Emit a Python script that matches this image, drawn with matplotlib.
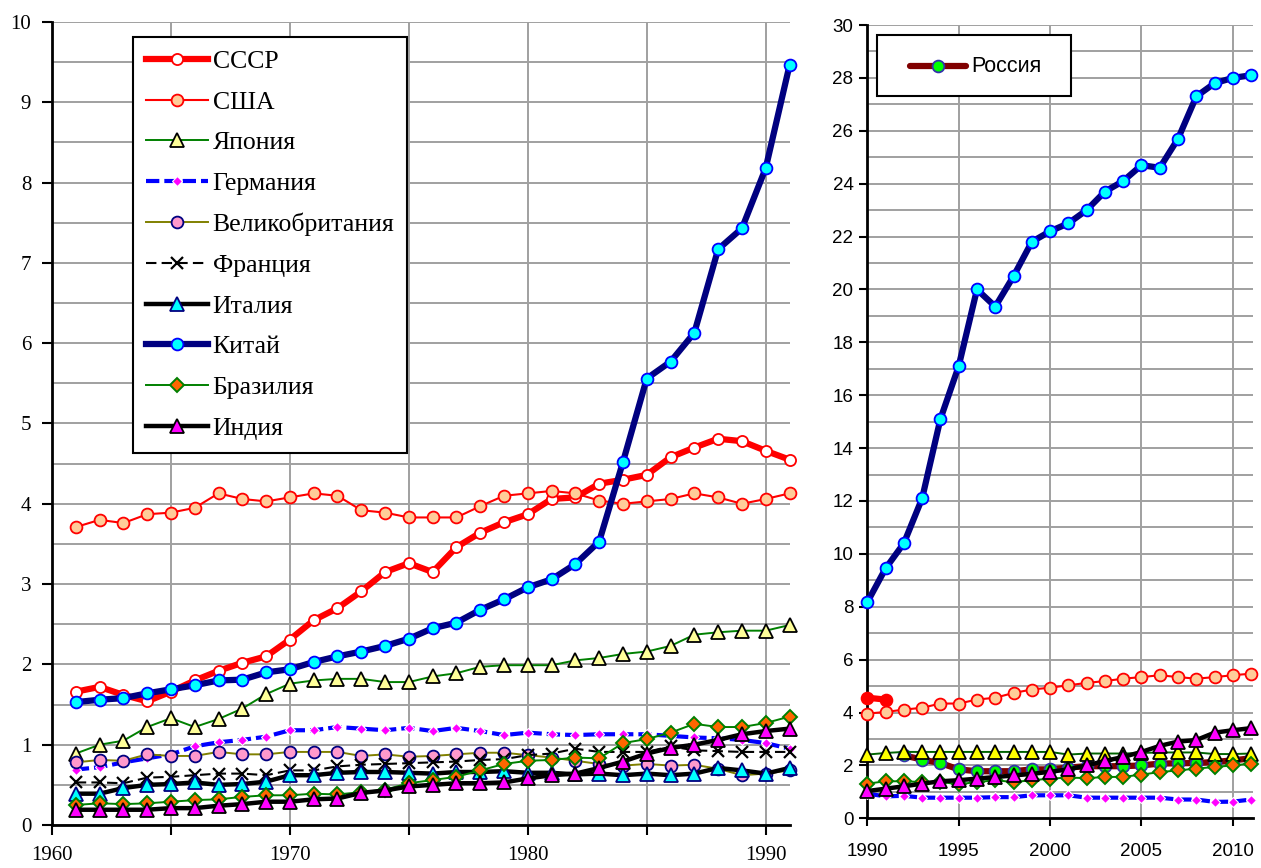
import matplotlib
matplotlib.use("Agg")
import matplotlib.pyplot as plt
from matplotlib.lines import Line2D
from matplotlib.patches import Rectangle
import numpy as np

# ---------------- data ----------------
years_left = list(range(1961, 1992))
ussr = [1.66,1.72,1.62,1.54,1.66,1.80,1.92,2.02,2.10,2.31,2.55,2.70,2.91,3.15,3.26,
        3.15,3.46,3.64,3.77,3.87,4.06,4.08,4.25,4.30,4.36,4.58,4.70,4.81,4.78,4.66,4.55]
usa = [3.71,3.80,3.76,3.87,3.89,3.95,4.13,4.06,4.03,4.08,4.13,4.10,3.92,3.89,3.83,
       3.83,3.83,3.97,4.10,4.13,4.16,4.13,4.04,4.00,4.03,4.06,4.13,4.08,4.00,4.06,4.13]
japan = [0.89,1.00,1.05,1.22,1.33,1.22,1.32,1.45,1.63,1.76,1.80,1.82,1.82,1.78,1.78,
         1.85,1.89,1.97,1.99,1.99,1.99,2.05,2.08,2.13,2.16,2.23,2.37,2.40,2.42,2.42,2.49]
germany = [0.69,0.72,0.78,0.83,0.88,0.98,1.03,1.06,1.10,1.18,1.18,1.22,1.20,1.18,1.21,
           1.17,1.21,1.17,1.12,1.15,1.13,1.12,1.13,1.13,1.13,1.11,1.09,1.08,1.06,1.02,0.95]
uk = [0.78,0.81,0.80,0.88,0.86,0.86,0.91,0.88,0.88,0.91,0.91,0.91,0.86,0.88,0.85,
      0.86,0.88,0.90,0.90,0.87,0.84,0.80,0.76,0.74,0.76,0.74,0.75,0.70,0.62,0.64,0.68]
france = [0.53,0.53,0.52,0.59,0.60,0.62,0.64,0.64,0.62,0.68,0.68,0.73,0.75,0.76,0.77,
          0.78,0.79,0.81,0.82,0.87,0.89,0.95,0.91,0.91,0.91,0.98,0.93,0.92,0.91,0.91,0.91]
italy = [0.39,0.39,0.46,0.50,0.51,0.53,0.50,0.51,0.54,0.62,0.62,0.65,0.66,0.66,0.65,
         0.64,0.66,0.66,0.67,0.65,0.65,0.63,0.64,0.62,0.64,0.62,0.64,0.71,0.68,0.64,0.71]
china = [1.53,1.56,1.58,1.64,1.69,1.74,1.80,1.81,1.90,1.94,2.03,2.10,2.16,2.23,2.32,
         2.45,2.52,2.68,2.81,2.96,3.06,3.25,3.53,4.52,5.56,5.77,6.13,7.17,7.43,8.18,9.46]
brazil = [0.25,0.27,0.26,0.27,0.29,0.31,0.32,0.35,0.37,0.37,0.39,0.38,0.41,0.44,0.52,
          0.56,0.60,0.68,0.76,0.80,0.81,0.84,0.83,1.02,1.07,1.15,1.26,1.22,1.22,1.27,1.35]
india = [0.19,0.19,0.19,0.19,0.21,0.21,0.24,0.26,0.29,0.29,0.32,0.33,0.40,0.43,0.48,
         0.50,0.52,0.52,0.53,0.58,0.62,0.64,0.71,0.79,0.89,0.96,1.00,1.06,1.13,1.17,1.20]

years_right = list(range(1990, 2012))
years_ussr_r = [1990, 1991]
ussr_r = [4.56, 4.49]
years_russia = list(range(1992, 2012))
russia_r = [2.38,2.22,2.09,1.85,1.78,1.78,1.78,1.85,1.85,1.92,1.97,1.97,1.97,2.00,
            2.07,2.08,2.09,2.13,2.19,2.27]
china_r = [8.17,9.45,10.4,12.1,15.1,17.1,20.0,19.35,20.5,21.8,22.2,22.5,23.0,23.7,
           24.1,24.7,24.6,25.7,27.3,27.8,28.0,28.1]
usa_r = [3.96,4.02,4.11,4.18,4.34,4.34,4.49,4.56,4.74,4.87,4.94,5.03,5.12,5.19,
         5.28,5.34,5.41,5.34,5.28,5.34,5.41,5.47]
japan_r = [2.41,2.47,2.51,2.51,2.51,2.51,2.51,2.51,2.51,2.51,2.51,2.41,2.45,2.45,
           2.45,2.47,2.49,2.49,2.49,2.43,2.43,2.45]
germany_r = [0.93,0.83,0.85,0.78,0.78,0.78,0.78,0.80,0.80,0.87,0.87,0.87,0.78,0.78,
             0.78,0.78,0.78,0.71,0.71,0.62,0.63,0.71]
india_r = [1.03,1.12,1.21,1.31,1.40,1.44,1.50,1.56,1.62,1.68,1.76,1.85,2.00,2.17,
           2.32,2.51,2.74,2.90,2.96,3.24,3.33,3.41]
brazil_r = [1.31,1.40,1.40,1.37,1.37,1.29,1.37,1.44,1.37,1.44,1.50,1.54,1.52,1.56,
            1.57,1.65,1.75,1.81,1.88,1.94,2.00,2.07]

labels_left = ["СССР", "США", "Япония", "Германия", "Великобритания", "Франция",
               "Италия", "Китай", "Бразилия", "Индия"]
label_russia = "Россия"

# ---------------- styles ----------------
st = {
    "ussr":    dict(color="#ff0000", lw=4.5, marker="o", ms=8, mfc="white", mec="#ff0000", mew=1.3),
    "usa":     dict(color="#ff0000", lw=1.5, marker="o", ms=8.5, mfc="#ffcc99", mec="#ff0000", mew=1.3),
    "japan":   dict(color="#008000", lw=1.4, marker="^", ms=10, mfc="#ffff99", mec="black", mew=1.3),
    "germany": dict(color="#0000ff", lw=3.0, ls=(0, (3.2, 1.2)), marker="D", ms=5.5, mfc="#ff00ff", mec="white", mew=0.8),
    "uk":      dict(color="#808000", lw=1.4, marker="o", ms=8.5, mfc="#ff99cc", mec="#000080", mew=1.3),
    "france":  dict(color="black", lw=1.5, ls=(0, (5, 2.5)), marker="x", ms=9, mfc="black", mec="black", mew=1.6),
    "italy":   dict(color="black", lw=3.2, marker="^", ms=10, mfc="#00ffff", mec="#000080", mew=1.3),
    "china":   dict(color="#000080", lw=4.5, marker="o", ms=8.5, mfc="#00ffff", mec="#0000ff", mew=1.3),
    "brazil":  dict(color="#008000", lw=1.4, marker="D", ms=7.5, mfc="#ff6600", mec="#008000", mew=1.4),
    "india":   dict(color="black", lw=3.2, marker="^", ms=10, mfc="#ff00ff", mec="black", mew=1.3),
}

W, H = 1261, 868
fig = plt.figure(figsize=(W / 100, H / 100), dpi=100)
fig.patch.set_facecolor("white")

def px_axes(x0, y0, x1, y1):
    return fig.add_axes([x0 / W, 1 - y1 / H, (x1 - x0) / W, (y1 - y0) / H])

grid_c = "#a0a0a0"

# ---------------- left panel ----------------
axL = px_axes(52, 22, 789.5, 825)
series_left = [ussr, usa, japan, germany, uk, france, italy, china, brazil, india]
keys = ["ussr", "usa", "japan", "germany", "uk", "france", "italy", "china", "brazil", "india"]
for k, vals, lab in zip(keys, series_left, labels_left):
    axL.plot(years_left, vals, label=lab, clip_on=False, **st[k])

axL.set_xlim(1960, 1991)
axL.set_ylim(0, 10)
axL.set_xticks(range(1960, 1991, 10))
axL.set_xticks(range(1965, 1991, 10), minor=True)
axL.set_yticks(range(0, 11))
axL.set_yticks(np.arange(0.5, 10, 1.0), minor=True)
axL.grid(True, which="both", color=grid_c, lw=1.4)
axL.set_axisbelow(True)
serif = "Liberation Serif"
for lab in axL.get_xticklabels() + axL.get_yticklabels():
    lab.set_fontfamily(serif)
    lab.set_fontsize(15)
axL.tick_params(axis="x", which="both", direction="out", length=7, width=1.5, pad=8)
axL.tick_params(axis="y", which="major", direction="out", length=7, width=1.5, pad=8)
axL.tick_params(axis="y", which="minor", length=0)
for s in ["top", "right"]:
    axL.spines[s].set_visible(False)
for s in ["left", "bottom"]:
    axL.spines[s].set_linewidth(2)
    axL.spines[s].set_color("black")

leg = axL.legend(loc="upper left", bbox_to_anchor=((133 - 52) / 737.5, (825 - 37) / 803),
                 borderaxespad=0, frameon=True, fancybox=False, shadow=False,
                 prop={"family": serif, "size": 18.5}, labelspacing=0.69,
                 handlelength=2.4, handletextpad=0.2, borderpad=0.5, numpoints=1)
leg.get_frame().set_edgecolor("black")
leg.get_frame().set_linewidth(1.5)
leg.get_frame().set_alpha(1)

# ---------------- right panel ----------------
axR = px_axes(867.3, 25, 1253, 818.3)
axR.plot(years_russia, russia_r, color="#800000", lw=4.5, marker="o", ms=8.5,
         mfc="#00ff00", mec="#3333aa", mew=1.3, zorder=3)
axR.plot(years_ussr_r, ussr_r, color="#ff0000", lw=4.5, marker="o", ms=8.5,
         mfc="#ff0000", mec="#ff0000", mew=1.3, zorder=3, clip_on=False)
axR.plot(years_right, usa_r, zorder=3, clip_on=False, **st["usa"])
axR.plot(years_right, japan_r, color="#006400", lw=1.4, marker="^", ms=10,
         mfc="#ffff00", mec="black", mew=1.3, zorder=3, clip_on=False)
axR.plot(years_right, germany_r, zorder=3, clip_on=False, **st["germany"])
axR.plot(years_right, china_r, zorder=3, clip_on=False, **st["china"])
axR.plot(years_right, brazil_r, zorder=3, clip_on=False, **st["brazil"])
axR.plot(years_right, india_r, zorder=3, clip_on=False, **st["india"])

axR.set_xlim(1990, 2011.1)
axR.set_ylim(0, 30)
axR.set_xticks(range(1990, 2011, 5))
axR.set_yticks(range(0, 31, 2))
axR.set_yticks(range(1, 30, 2), minor=True)
axR.grid(True, which="both", color=grid_c, lw=1.4)
axR.set_axisbelow(True)
sans = "Liberation Sans"
for lab in axR.get_xticklabels() + axR.get_yticklabels():
    lab.set_fontfamily(sans)
    lab.set_fontsize(13.5)
axR.tick_params(axis="x", direction="out", length=6, width=1.5, pad=12)
axR.tick_params(axis="y", which="major", direction="out", length=6, width=1.5, pad=4)
axR.tick_params(axis="y", which="minor", length=0)
for s in ["top", "right"]:
    axR.spines[s].set_visible(False)
for s in ["left", "bottom"]:
    axR.spines[s].set_linewidth(2)
    axR.spines[s].set_color("black")

# manual legend box for Россия (figure pixel coords)
def fx(x): return x / W
def fy(y): return 1 - y / H
fig.patches.append(Rectangle((fx(877), fy(96)), (1071 - 877) / W, (96 - 35) / H,
                             transform=fig.transFigure, facecolor="white",
                             edgecolor="black", lw=1.5, zorder=10))
fig.lines.append(Line2D([fx(910), fx(966)], [fy(66), fy(66)], transform=fig.transFigure,
                        color="#800000", lw=4.5, solid_capstyle="round", zorder=11))
fig.lines.append(Line2D([fx(938)], [fy(66)], transform=fig.transFigure, marker="o",
                        ms=8.5, mfc="#00ff00", mec="#3333aa", mew=1.3, zorder=12))
fig.text(fx(971), fy(66), label_russia, fontfamily=sans, fontsize=15.5,
         va="center", ha="left", zorder=12)

fig.savefig("out.png", dpi=100, facecolor="white")
